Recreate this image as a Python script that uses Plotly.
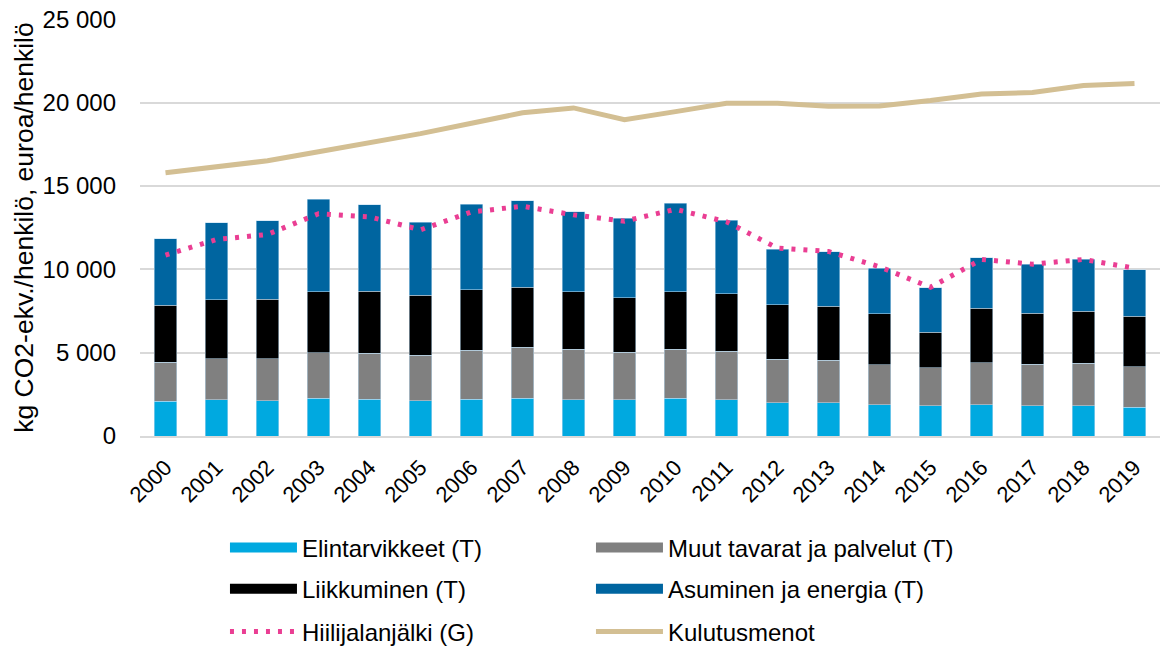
import plotly.graph_objects as go

years = [str(y) for y in range(2000, 2020)]

elintarvikkeet = [2090, 2170, 2110, 2250, 2210, 2110, 2210, 2250, 2170, 2170,
                  2250, 2170, 2000, 1980, 1880, 1800, 1880, 1820, 1820, 1720]
muut = [2340, 2460, 2520, 2740, 2760, 2720, 2920, 3060, 3040, 2840,
        2940, 2900, 2590, 2550, 2390, 2290, 2510, 2470, 2530, 2430]
liikkuminen = [3420, 3530, 3570, 3650, 3710, 3610, 3630, 3610, 3430, 3270,
               3450, 3450, 3290, 3250, 3050, 2130, 3270, 3070, 3130, 3030]
asuminen = [3980, 4630, 4710, 5570, 5190, 4370, 5130, 5190, 4810, 4790,
            5310, 4410, 3310, 3270, 2730, 2670, 3030, 2930, 3110, 2790]
hiilijalanjalki = [10850, 11790, 12090, 13330, 13150, 12370, 13440, 13780, 13270, 12890,
                   13600, 12850, 11270, 11070, 10150, 8920, 10590, 10310, 10590, 10070]
kulutusmenot = [15790, 16150, 16510, 17050, 17590, 18140, 18760, 19390, 19680, 18970,
                19460, 19960, 19960, 19780, 19800, 20120, 20520, 20600, 21030, 21150]

y_ticks = [0, 5000, 10000, 15000, 20000, 25000]
y_tick_labels = ["0", "5 000", "10 000", "15 000", "20 000", "25 000"]

c_food = "#00A9E0"
c_other = "#808080"
c_move = "#000000"
c_house = "#0065A0"
c_foot = "#EA3E93"
c_spend = "#D3BF93"

fig = go.Figure()

bar_series = [
    ("Elintarvikkeet (T)", elintarvikkeet, c_food),
    ("Muut tavarat ja palvelut (T)", muut, c_other),
    ("Liikkuminen (T)", liikkuminen, c_move),
    ("Asuminen ja energia (T)", asuminen, c_house),
]
for name, vals, col in bar_series:
    fig.add_trace(go.Bar(
        x=years, y=vals, name=name, marker_color=col,
        marker_line=dict(color="rgba(190,220,240,0.9)", width=0.6),
        showlegend=False,
    ))

fig.add_trace(go.Scatter(
    x=years, y=hiilijalanjalki, mode="lines", name="Hiilijalanjälki (G)",
    line=dict(color=c_foot, width=5, dash="4px,8px"), showlegend=False,
))
fig.add_trace(go.Scatter(
    x=years, y=kulutusmenot, mode="lines", name="Kulutusmenot",
    line=dict(color=c_spend, width=5), showlegend=False,
))

# legend-only entries (long rectangle symbols), one legend per row
legend_entries = [
    ("Elintarvikkeet (T)", c_food, 14, "solid", "legend"),
    ("Muut tavarat ja palvelut (T)", c_other, 14, "solid", "legend"),
    ("Liikkuminen (T)", c_move, 14, "solid", "legend2"),
    ("Asuminen ja energia (T)", c_house, 14, "solid", "legend2"),
    ("Hiilijalanjälki (G)", c_foot, 5, "4px,8px", "legend3"),
    ("Kulutusmenot", c_spend, 5, "solid", "legend3"),
]
for name, col, w, dash, lg in legend_entries:
    fig.add_trace(go.Scatter(
        x=[None], y=[None], mode="lines", name=name,
        line=dict(color=col, width=w, dash=dash), showlegend=True, legend=lg,
    ))

row_y = {"legend": -0.2686, "legend2": -0.367, "legend3": -0.470}
legend_common = dict(
    orientation="h", x=0.0833, xanchor="left", yanchor="middle",
    entrywidth=284, entrywidthmode="pixels", itemwidth=67,
    font=dict(size=24), traceorder="normal", bgcolor="rgba(0,0,0,0)",
)

fig.update_layout(
    barmode="stack",
    bargap=0.55,
    width=1169, height=648,
    margin=dict(l=132, r=17, t=11, b=220, autoexpand=False),
    plot_bgcolor="white", paper_bgcolor="white",
    font=dict(family="Liberation Sans, Arial, sans-serif", size=24, color="#000000"),
    legend=dict(y=row_y["legend"], **legend_common),
    legend2=dict(y=row_y["legend2"], **legend_common),
    legend3=dict(y=row_y["legend3"], **legend_common),
    showlegend=True,
)
fig.update_yaxes(
    range=[0, 25015], tickvals=y_ticks, ticktext=y_tick_labels,
    showgrid=True, gridcolor="#D9D9D9", gridwidth=2,
    zeroline=False, showline=False, ticks="", ticklabelstandoff=23,
    ticklabeloverflow="allow",
    title=dict(text="kg CO2-ekv./henkilö, euroa/henkilö", font=dict(size=26.5), standoff=1),
    tickfont=dict(size=24), automargin=False,
)
fig.update_xaxes(
    tickangle=-45, tickfont=dict(size=22), showgrid=False,
    showline=True, linecolor="#D9D9D9", linewidth=2, ticks="",
    ticklabelstandoff=8, automargin=False, ticklabeloverflow="allow",
)

fig.write_html("out.html")
